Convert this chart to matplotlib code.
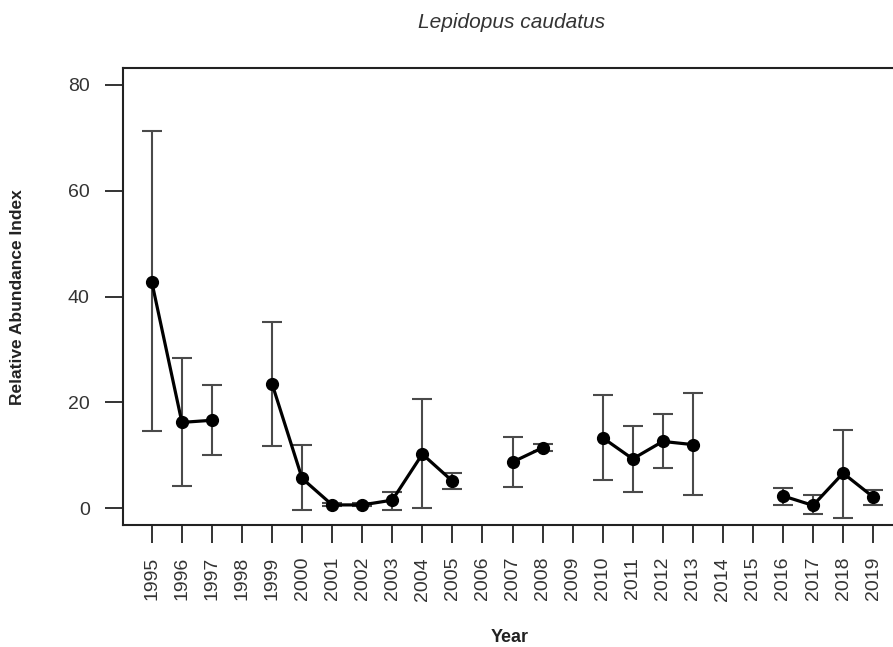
import numpy as np
import matplotlib
matplotlib.use("Agg")
import matplotlib.pyplot as plt

plt.rcParams['font.family'] = ['Liberation Sans', 'DejaVu Sans']

years = list(range(1995, 2020))
# relative abundance index (NaN = no survey)
index = [42.7, 16.2, 16.6, np.nan, 23.5, 5.6, 0.6, 0.6, 1.5, 10.2, 5.1, np.nan,
         8.7, 11.4, np.nan, 13.3, 9.3, 12.6, 12.0, np.nan, np.nan, 2.3, 0.5, 6.6, 2.1]
lower = [14.5, 4.2, 10.0, np.nan, 11.8, -0.4, 0.3, 0.3, -0.4, 0.0, 3.6, np.nan,
         3.9, 10.8, np.nan, 5.4, 3.0, 7.5, 2.4, np.nan, np.nan, 0.6, -1.2, -1.8, 0.6]
upper = [71.2, 28.4, 23.2, np.nan, 35.2, 12.0, 0.9, 0.9, 3.0, 20.7, 6.6, np.nan,
         13.4, 12.1, np.nan, 21.4, 15.6, 17.7, 21.7, np.nan, np.nan, 3.8, 2.4, 14.7, 3.5]
yticks = [0, 20, 40, 60, 80]
title = "Lepidopus caudatus"
xlabel = "Year"
ylabel = "Relative Abundance Index"

W, H = 893, 647
fig = plt.figure(figsize=(W / 100, H / 100), dpi=100)
L, R, T, B = 123, 902, 68, 525
ax = fig.add_axes([L / W, (H - B) / H, (R - L) / W, (B - T) / H])

x = np.array(years, dtype=float)
y = np.array(index, dtype=float)
lo = np.array(lower, dtype=float)
hi = np.array(upper, dtype=float)
ok = ~np.isnan(y)

ax.errorbar(x[ok], y[ok], yerr=[y[ok] - lo[ok], hi[ok] - y[ok]], fmt='none',
            ecolor='#4a4a4a', elinewidth=1.5, capsize=7, capthick=1.5, zorder=2)
ax.plot(x, y, color='black', linewidth=2.3, zorder=3)
ax.plot(x[ok], y[ok], 'o', color='black', markersize=8.5, zorder=4)

ax.set_xlim(1994.04, 2019.96)
ax.set_ylim(-3.2, 83.2)
ax.set_xticks(years)
ax.set_xticklabels([str(v) for v in years], rotation=90, fontsize=14, color='#333333')
ax.set_yticks(yticks)
ax.set_yticklabels([str(v) for v in yticks], fontsize=14, color='#333333')
ax.tick_params(axis='x', length=13, width=1.4, color='#333333', pad=10)
ax.tick_params(axis='y', length=13, width=1.4, color='#333333', pad=11)
for s in ax.spines.values():
    s.set_linewidth(1.5)
    s.set_color('#222222')

fig.text(512 / W, 1 - 22 / H, title, ha='center', va='center', fontsize=15,
         style='italic', color='#333333')
fig.text(510 / W, 1 - 637 / H, xlabel, ha='center', va='center', fontsize=13,
         fontweight='bold', color='#222222')
fig.text(18 / W, 1 - 297 / H, ylabel, ha='center', va='center', fontsize=12.5,
         fontweight='bold', rotation=90, color='#222222')

fig.savefig("out.png", dpi=100)
